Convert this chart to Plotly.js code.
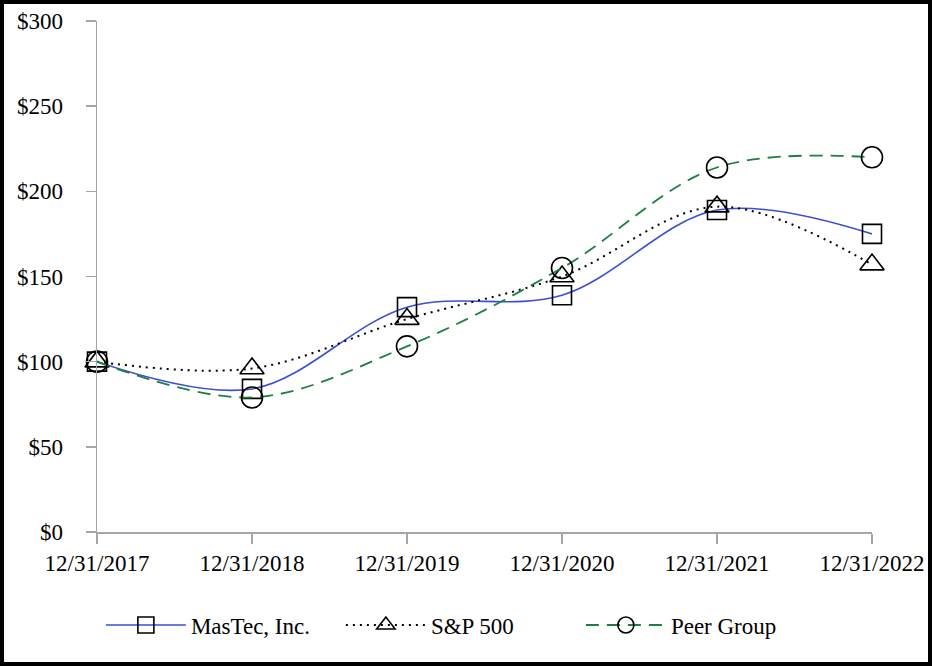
<!DOCTYPE html>
<html><head><meta charset="utf-8">
<script src="https://cdn.plot.ly/plotly-3.0.1.min.js"></script>
<style>
html,body{margin:0;padding:0;background:#fff;}
#wrap{position:relative;width:932px;height:666px;}
#chart{width:932px;height:666px;}
#frame{position:absolute;left:0;top:0;width:932px;height:666px;box-sizing:border-box;border:4px solid #000;pointer-events:none;}
</style></head>
<body>
<div id="wrap"><div id="chart"></div><div id="frame"></div></div>
<script>
const categories = ["12/31/2017","12/31/2018","12/31/2019","12/31/2020","12/31/2021","12/31/2022"];
const mastec = [100, 84, 132, 139, 189, 175];
const sp500 = [100, 96, 125, 150, 191, 157];
const peer = [100, 79, 109, 155, 214, 220];
const yTicks = [0, 50, 100, 150, 200, 250, 300];
const yTickText = ["$0","$50","$100","$150","$200","$250","$300"];

const markerBase = {size: 20, color: '#000', line: {color: '#000', width: 1.6}};
const traces = [
  {x: categories, y: mastec, name: 'MasTec, Inc.', mode: 'lines+markers', cliponaxis: false,
   line: {color: '#3A4FD4', width: 1.6, shape: 'spline', smoothing: 1},
   marker: Object.assign({}, markerBase, {symbol: 'square-open', size: 19})},
  {x: categories, y: sp500, name: 'S&P 500', mode: 'lines+markers', cliponaxis: false,
   line: {color: '#000', width: 2, dash: '2px,5px', shape: 'spline', smoothing: 1},
   marker: Object.assign({}, markerBase, {symbol: 'triangle-up-open', size: 21})},
  {x: categories, y: peer, name: 'Peer Group', mode: 'lines+markers', cliponaxis: false,
   line: {color: '#1E7F45', width: 1.8, dash: '13px,8px', shape: 'spline', smoothing: 1},
   marker: Object.assign({}, markerBase, {symbol: 'circle-open', size: 21})}
];

const layout = {
  width: 932, height: 666,
  margin: {l: 97, r: 60, t: 21, b: 134},
  paper_bgcolor: '#fff', plot_bgcolor: '#fff',
  font: {family: 'Liberation Serif, Times New Roman, serif', size: 23, color: '#000'},
  showlegend: true,
  legend: {orientation: 'h', x: 0.005, xanchor: 'left', y: -0.14, yanchor: 'top',
           font: {size: 23}, traceorder: 'normal', itemwidth: 80, itemsizing: 'trace',
           entrywidth: 145},
  xaxis: {type: 'category', range: [0, 5], showgrid: false, zeroline: false,
          showline: true, linecolor: '#A6A6A6', linewidth: 1.5,
          ticks: 'outside', ticklen: 10, tickcolor: '#A6A6A6', tickwidth: 1.5,
          tickfont: {size: 23}},
  yaxis: {range: [0, 300], tickvals: yTicks, ticktext: yTickText,
          showgrid: false, zeroline: false,
          showline: true, linecolor: '#A6A6A6', linewidth: 1.5,
          ticks: 'outside', ticklen: 10, tickcolor: '#A6A6A6', tickwidth: 1.5,
          ticklabelstandoff: 18,
          tickfont: {size: 23}}
};
Plotly.newPlot('chart', traces, layout, {displayModeBar: false, staticPlot: true});
</script>
</body></html>
